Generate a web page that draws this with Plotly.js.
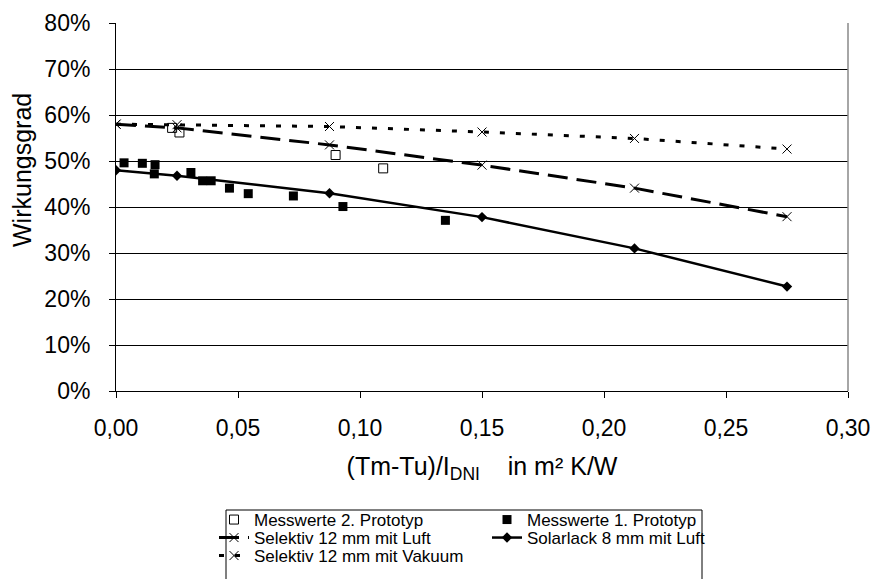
<!DOCTYPE html>
<html>
<head>
<meta charset="utf-8">
<script src="https://cdn.plot.ly/plotly-3.0.1.min.js"></script>
<style>html,body{margin:0;padding:0;background:#fff;}#chart{width:875px;height:579px;}</style>
</head>
<body>
<div id="chart"></div>
<script>
// Model curves (x in m² K/W, y = efficiency fraction)
const modelX = [0, 0.025, 0.0875, 0.15, 0.2125, 0.275];
const solarlackY = [0.480, 0.468, 0.430, 0.378, 0.310, 0.227];
const selektivLuftY = [0.580, 0.572, 0.535, 0.491, 0.441, 0.379];
const selektivVakuumY = [0.580, 0.579, 0.575, 0.563, 0.549, 0.526];

// Measurements
const mess2X = [0.023, 0.026, 0.090, 0.1095];
const mess2Y = [0.572, 0.562, 0.513, 0.484];
const mess1X = [0.0033, 0.0108, 0.016, 0.0157, 0.0307, 0.0355, 0.039, 0.0465, 0.0542, 0.0727, 0.093, 0.135];
const mess1Y = [0.496, 0.495, 0.492, 0.472, 0.475, 0.457, 0.457, 0.441, 0.429, 0.424, 0.401, 0.371];

const names = ["Messwerte 2. Prototyp", "Messwerte 1. Prototyp", "Selektiv 12 mm mit Luft", "Solarlack 8 mm mit Luft", "Selektiv 12 mm mit Vakuum"];
const yTitle = "Wirkungsgrad";
const xTitle = "(Tm-Tu)/I<sub>DNI</sub>&nbsp;&nbsp;&nbsp; in m² K/W";

const W = 875, H = 579;
const L = 116, R = 848, T = 23, B = 391;
const px = v => (v - L) / (R - L);
const py = v => (B - v) / (B - T);

const FONT = "Liberation Sans, Arial, sans-serif";

const traces = [
  {x: mess2X, y: mess2Y, name: names[0], mode: "markers", type: "scatter", legend: "legend",
   marker: {symbol: "square-open", size: 9, color: "#000", line: {width: 1, color: "#000"}}},
  {x: mess1X, y: mess1Y, name: names[1], mode: "markers", type: "scatter", legend: "legend2",
   marker: {symbol: "square", size: 9, color: "#000"}},
  {x: modelX, y: selektivLuftY, name: names[2], mode: "lines+markers", type: "scatter", legend: "legend3",
   line: {color: "#000", width: 3, dash: "20px,9px"},
   marker: {symbol: "x-thin", size: 9, line: {width: 1, color: "#000"}, color: "#000"}},
  {x: modelX, y: solarlackY, name: names[3], mode: "lines+markers", type: "scatter", legend: "legend4",
   line: {color: "#000", width: 2.5},
   marker: {symbol: "diamond", size: 8, color: "#000"}},
  {x: modelX, y: selektivVakuumY, name: names[4], mode: "lines+markers", type: "scatter", legend: "legend5",
   line: {color: "#000", width: 3, dash: "5px,11px"},
   marker: {symbol: "x-thin", size: 9, line: {width: 1, color: "#000"}, color: "#000"}}
];

const legFont = {family: FONT, size: 17, color: "#000"};
const col1 = px(214), col2 = px(487);
function leg(x, yPix) {
  return {x: x, y: py(yPix), xanchor: "left", yanchor: "middle", font: legFont,
          bgcolor: "rgba(0,0,0,0)", borderwidth: 0, itemwidth: 30, orientation: "v"};
}

const layout = {
  width: W, height: H,
  margin: {l: L, r: W - R, t: T, b: H - B, autoexpand: false},
  paper_bgcolor: "#fff", plot_bgcolor: "#fff",
  separators: ",.",
  font: {family: FONT, color: "#000"},
  showlegend: true,
  legend: leg(col1, 520),
  legend2: leg(col2, 520),
  legend3: leg(col1, 538),
  legend4: leg(col2, 538),
  legend5: leg(col1, 556),
  xaxis: {
    range: [0, 0.30], dtick: 0.05, tick0: 0, tickformat: ".2f",
    showgrid: false, zeroline: false, showline: true, linecolor: "#000", linewidth: 1,
    ticks: "outside", ticklen: 6, tickcolor: "#000", ticklabelstandoff: 10,
    tickfont: {family: FONT, size: 23, color: "#000"},
    title: {text: xTitle, font: {family: FONT, size: 25, color: "#000"}, standoff: 17},
    automargin: false
  },
  yaxis: {
    range: [0, 0.80], dtick: 0.1, tick0: 0, tickformat: ".0%",
    showgrid: true, gridcolor: "#000", gridwidth: 1, zeroline: false,
    showline: true, linecolor: "#000", linewidth: 1,
    ticks: "outside", ticklen: 6, tickcolor: "#000", ticklabelstandoff: 14,
    tickfont: {family: FONT, size: 23, color: "#000"},
    automargin: false
  },
  annotations: [
    {text: yTitle, xref: "paper", yref: "paper", x: px(22), y: py(170), xanchor: "center", yanchor: "middle",
     textangle: -90, showarrow: false, font: {family: FONT, size: 25, color: "#000"}}
  ],
  shapes: [
    {type: "line", xref: "paper", yref: "paper", x0: 1, x1: 1, y0: 0, y1: 1, line: {color: "#888", width: 1.5}},
    {type: "rect", xref: "paper", yref: "paper", x0: px(226), x1: px(702), y0: py(510), y1: py(610), line: {color: "#000", width: 1}, fillcolor: "rgba(0,0,0,0)"}
  ]
};

Plotly.newPlot("chart", traces, layout, {displayModeBar: false, staticPlot: true});
</script>
</body>
</html>
